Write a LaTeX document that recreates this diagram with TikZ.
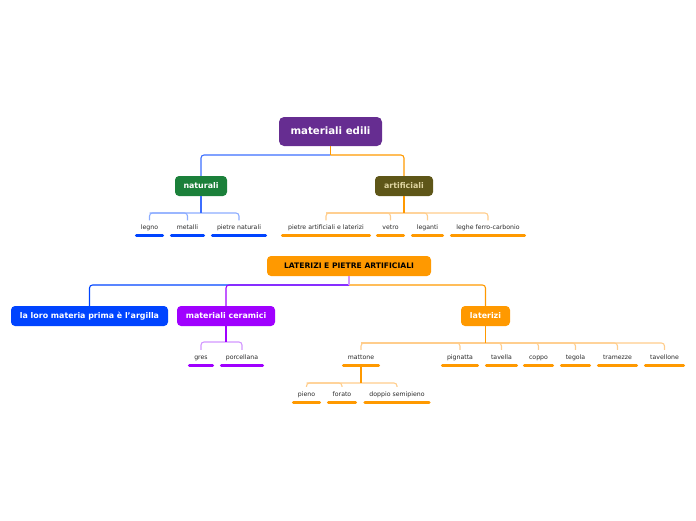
\documentclass[tikz,border=0pt]{standalone}
\usepackage{fontspec}
\setmainfont{DejaVu Sans}
\definecolor{cRoot}{RGB}{102,45,145}
\definecolor{cNat}{RGB}{27,128,58}
\definecolor{cArt}{RGB}{94,86,24}
\definecolor{cArtTxt}{RGB}{222,212,160}
\definecolor{cOr}{RGB}{255,153,0}
\definecolor{cBl}{RGB}{0,68,255}
\definecolor{cPu}{RGB}{160,0,255}
\definecolor{cBlMid}{RGB}{60,110,255}
\definecolor{lBl}{RGB}{140,172,255}
\definecolor{lOr}{RGB}{255,205,140}
\definecolor{lPu}{RGB}{210,150,255}
\definecolor{cTxt}{RGB}{40,40,40}
\begin{document}
\begin{tikzpicture}[x=1pt,y=-1pt,
  box/.style={rounded corners=4pt, inner sep=0pt, minimum height=20pt, text=white,
    text height=5.8pt, text depth=1.6pt,
    font=\bfseries\fontsize{7.9}{9}\selectfont},
  leaf/.style={inner sep=0pt, minimum height=15pt, text=cTxt,
    text height=4.6pt, text depth=1.3pt, font=\fontsize{6.2}{7}\selectfont},
  ul/.style={line width=3pt, line cap=round},
  bar/.style={line width=1.1pt, rounded corners=3pt},
  stem/.style={line width=1.4pt}
]
\useasboundingbox (0,0) rectangle (696,520);

% main nodes
\node[box, fill=cRoot, minimum width=103pt, minimum height=29pt, rounded corners=5pt,
  text height=7.5pt, text depth=2pt,
  font=\bfseries\fontsize{10.2}{12}\selectfont] (root) at (330.5,131.5) {materiali edili};
\node[box, fill=cNat, minimum width=52pt] (nat) at (201,186) {naturali};
\node[box, fill=cArt, minimum width=58pt, text=cArtTxt] (art) at (404,186) {artificiali};
\node[box, fill=cOr, minimum width=164pt, text=black,
  font=\bfseries\fontsize{7.6}{9}\selectfont] (lat) at (349,266) {LATERIZI E PIETRE ARTIFICIALI};
\node[box, fill=cBl, minimum width=157pt] (arg) at (89.5,316) {la loro materia prima è l'argilla};
\node[box, fill=cPu, minimum width=98pt] (cer) at (226,316) {materiali ceramici};
\node[box, fill=cOr, minimum width=49pt] (lz) at (485.5,316) {laterizi};

% leaves
\foreach \n/\x/\y/\w/\c/\t in {
  legno/149.5/228/26/cBl/legno,
  metalli/187.5/228/32/cBl/metalli,
  pnat/239/228/53/cBl/pietre naturali,
  part/326/228/87/cOr/pietre artificiali e laterizi,
  vetro/390.5/228/26/cOr/vetro,
  leganti/427.5/228/30/cOr/leganti,
  leghe/488/228/73/cOr/leghe ferro-carbonio,
  gres/201/357.5/23/cPu/gres,
  porc/242/357.5/41/cPu/porcellana,
  matt/361/357.5/35/cOr/mattone,
  pign/460/357.5/35/cOr/pignatta,
  tav/501.5/357.5/30/cOr/tavella,
  coppo/538.5/357.5/28/cOr/coppo,
  teg/575.5/357.5/28/cOr/tegola,
  tram/617.5/357.5/38/cOr/tramezze,
  tavl/664.5/357.5/38/cOr/tavellone,
  pieno/306.5/394.5/26/cOr/pieno,
  forato/342/394.5/27/cOr/forato,
  doppio/397/394.5/64/cOr/doppio semipieno}
{
  \node[leaf, minimum width=\w pt] (\n) at (\x,\y) {\t};
  \draw[ul, draw=\c] (\n.south west) -- (\n.south east);
}

% root connectors
\draw[bar, draw=cBlMid] (root.south |- 0,155) -- (nat.north |- 0,155) -- (nat.north);
\draw[bar, draw=cOr] (root.south |- 0,155) -- (art.north |- 0,155) -- (art.north);
\draw[stem, draw=cOr] (root.south) -- (root.south |- 0,155);

% naturali children
\draw[bar, draw=lBl] (legno.north) -- (legno.north |- 0,213) -- (pnat.north |- 0,213) -- (pnat.north);
\draw[bar, draw=lBl] (metalli.north) -- (metalli.north |- 0,213) -- (legno.north |- 0,213);
\draw[stem, draw=cBlMid] (nat.south) -- (nat.south |- 0,213);

% artificiali children
\draw[bar, draw=lOr] (part.north) -- (part.north |- 0,213) -- (leghe.north |- 0,213) -- (leghe.north);
\draw[bar, draw=lOr] (vetro.north) -- (vetro.north |- 0,213) -- (part.north |- 0,213);
\draw[bar, draw=lOr] (leganti.north) -- (leganti.north |- 0,213) -- (part.north |- 0,213);
\draw[stem, draw=cOr] (art.south) -- (art.south |- 0,213);

% LATERIZI connectors
\draw[bar, draw=cBl] (lat.south |- 0,285) -- (arg.north |- 0,285) -- (arg.north);
\draw[bar, draw=cPu] (lat.south |- 0,285) -- (cer.north |- 0,285) -- (cer.north);
\draw[bar, draw=cOr] (lat.south |- 0,285) -- (lz.north |- 0,285) -- (lz.north);
\draw[stem, draw=lPu] (lat.south) -- (lat.south |- 0,285);

% ceramici children
\draw[bar, draw=lPu] (gres.north) -- (gres.north |- 0,342) -- (porc.north |- 0,342) -- (porc.north);
\draw[stem, draw=cPu] (cer.south) -- (cer.south |- 0,342);

% laterizi children
\draw[bar, draw=lOr] (matt.north) -- (matt.north |- 0,343) -- (tavl.north |- 0,343) -- (tavl.north);
\foreach \n in {pign,tav,coppo,teg,tram}
  \draw[bar, draw=lOr] (\n.north) -- (\n.north |- 0,343) -- (matt.north |- 0,343);
\draw[stem, draw=cOr] (lz.south) -- (lz.south |- 0,343);

% mattone children
\draw[bar, draw=lOr] (pieno.north) -- (pieno.north |- 0,383) -- (doppio.north |- 0,383) -- (doppio.north);
\draw[bar, draw=lOr] (forato.north) -- (forato.north |- 0,383) -- (pieno.north |- 0,383);
\draw[stem, draw=cOr] (matt.south) -- (matt.south |- 0,383);
\end{tikzpicture}
\end{document}
